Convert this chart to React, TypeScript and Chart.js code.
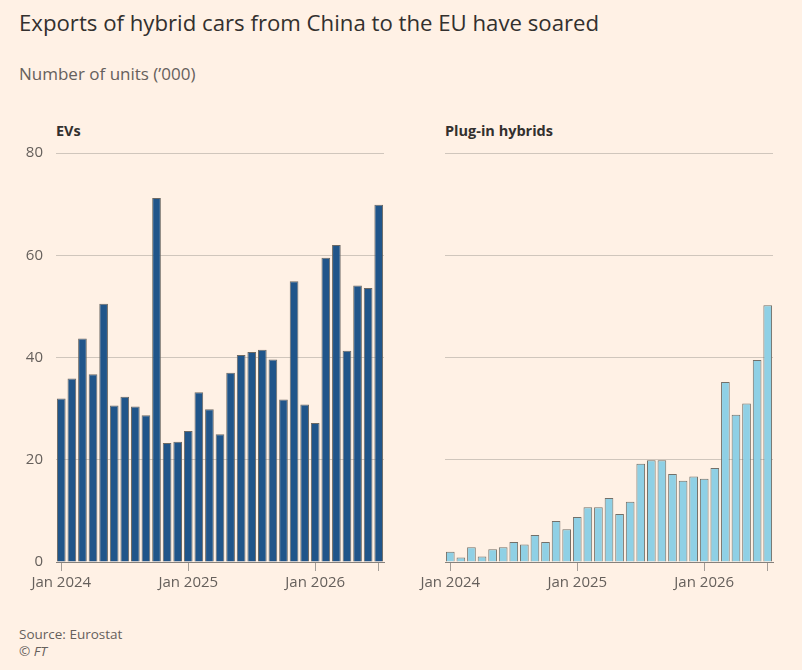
import React, { useEffect, useRef } from "react";
import { Chart, registerables } from "chart.js";

Chart.register(...registerables);

const months = [
  "Jan 2024", "Feb 2024", "Mar 2024", "Apr 2024", "May 2024", "Jun 2024",
  "Jul 2024", "Aug 2024", "Sep 2024", "Oct 2024", "Nov 2024", "Dec 2024",
  "Jan 2025", "Feb 2025", "Mar 2025", "Apr 2025", "May 2025", "Jun 2025",
  "Jul 2025", "Aug 2025", "Sep 2025", "Oct 2025", "Nov 2025", "Dec 2025",
  "Jan 2026", "Feb 2026", "Mar 2026", "Apr 2026", "May 2026", "Jun 2026",
  "Jul 2026",
];

const evValues = [
  32, 35.9, 43.7, 36.7, 50.5, 30.6, 32.3, 30.4, 28.7, 71.2, 23.3, 23.5,
  25.6, 33.2, 29.9, 25.0, 37.0, 40.5, 41.1, 41.5, 39.6, 31.8, 54.9, 30.8,
  27.2, 59.5, 62.0, 41.3, 54.1, 53.6, 69.9,
];

const phevValues = [
  2.0, 0.9, 2.9, 1.1, 2.5, 2.9, 3.9, 3.4, 5.3, 3.9, 8.0, 6.4,
  8.8, 10.7, 10.7, 12.5, 9.4, 11.8, 19.2, 19.9, 19.9, 17.2, 15.9, 16.7,
  16.3, 18.4, 35.2, 28.8, 31.0, 39.5, 50.2,
];

const yMin = 0;
const yMax = 80;
const yStep = 20;
const markedMonths = ["Jan 2024", "Jan 2025", "Jan 2026", "Jul 2026"];
const labelledMonths = ["Jan 2024", "Jan 2025", "Jan 2026"];

const FONT = "'Open Sans', Lato, sans-serif";
const BG = "#FFF1E5";
const TEXT_DARK = "#33302e";
const TEXT_MUTED = "#66605c";
const GRID = "#d0c6bc";
const BASELINE = "#86817c";

type PanelProps = {
  values: number[];
  fill: string;
  border: string;
  showYLabels: boolean;
  left: number;
  width: number;
  axisWidth: number;
  padRight: number;
};

function Panel({ values, fill, border, showYLabels, left, width, axisWidth, padRight }: PanelProps) {
  const ref = useRef<HTMLCanvasElement | null>(null);

  useEffect(() => {
    if (!ref.current) return;
    const markedIdx = markedMonths.map((m) => months.indexOf(m));
    const chart = new Chart(ref.current, {
      type: "bar",
      data: {
        labels: months,
        datasets: [
          {
            data: values,
            backgroundColor: fill,
            borderColor: border,
            borderWidth: 1,
            barPercentage: 0.82,
            categoryPercentage: 1,
          },
        ],
      },
      options: {
        responsive: false,
        animation: false,
        devicePixelRatio: 1,
        layout: { padding: { top: 53, right: padRight, bottom: 0, left: 0 } },
        plugins: {
          legend: { display: false },
          tooltip: { enabled: false },
          title: { display: false },
        },
        scales: {
          x: {
            type: "category",
            offset: true,
            afterBuildTicks: (scale: any) => {
              scale.ticks = scale.ticks.filter((t: any) => markedIdx.includes(t.value));
            },
            afterFit: (scale: any) => {
              scale.height = 38;
            },
            grid: {
              offset: false,
              drawOnChartArea: false,
              drawTicks: true,
              tickLength: 9,
              tickColor: "#a39d97",
              tickWidth: 1,
            },
            border: { display: true, color: BASELINE, width: 1 },
            ticks: {
              autoSkip: false,
              maxRotation: 0,
              minRotation: 0,
              padding: 3,
              color: TEXT_MUTED,
              font: { family: FONT, size: 15 },
              callback: (value: any) => {
                const m = months[value as number];
                return labelledMonths.includes(m) ? m : "";
              },
            },
          },
          y: {
            min: yMin,
            max: yMax,
            afterFit: (scale: any) => {
              scale.width = axisWidth;
            },
            grid: {
              color: GRID,
              lineWidth: 1,
              drawTicks: false,
            },
            border: { display: false },
            ticks: {
              display: showYLabels,
              stepSize: yStep,
              padding: 13,
              color: TEXT_MUTED,
              font: { family: FONT, size: 15 },
            },
          },
        },
      },
    });
    return () => chart.destroy();
  }, [values, fill, border, showYLabels, axisWidth, padRight]);

  return (
    <canvas
      ref={ref}
      width={width}
      height={500}
      style={{ position: "absolute", left, top: 100, width, height: 500 }}
    />
  );
}

export default function App() {
  useEffect(() => {
    document.body.style.margin = "0";
    document.body.style.background = BG;
  }, []);

  const text = (top: number, left: number, size: number, color: string, extra: React.CSSProperties = {}) =>
    ({
      position: "absolute",
      top,
      left,
      fontFamily: FONT,
      fontSize: size,
      lineHeight: `${size}px`,
      color,
      whiteSpace: "nowrap",
      margin: 0,
      ...extra,
    } as React.CSSProperties);

  return (
    <div style={{ position: "relative", width: 802, height: 670, background: BG, overflow: "hidden" }}>
      <div style={text(12, 19, 22.2, TEXT_DARK)}>Exports of hybrid cars from China to the EU have soared</div>
      <div style={text(65, 19, 17, TEXT_MUTED)}>Number of units (’000)</div>
      <div style={text(124, 56, 14.5, TEXT_DARK, { fontWeight: 700 })}>EVs</div>
      <div style={text(124, 445, 14.5, TEXT_DARK, { fontWeight: 700 })}>Plug-in hybrids</div>
      <Panel
        values={evValues}
        fill="#20558a"
        border="#6c6964"
        showYLabels={true}
        left={0}
        width={400}
        axisWidth={56}
        padRight={16}
      />
      <Panel
        values={phevValues}
        fill="#8fd0e5"
        border="#737069"
        showYLabels={false}
        left={400}
        width={402}
        axisWidth={45}
        padRight={29}
      />
      <div style={text(628, 19, 13.5, TEXT_MUTED)}>Source: Eurostat</div>
      <div style={text(645, 19, 13.5, TEXT_MUTED)}>
        © <span style={{ fontStyle: "italic" }}>FT</span>
      </div>
    </div>
  );
}
